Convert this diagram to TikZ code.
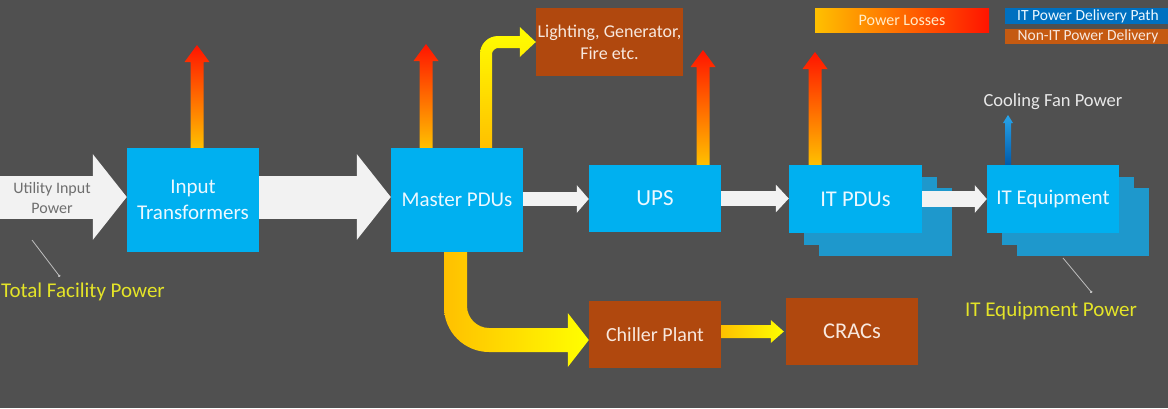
\documentclass[tikz,border=0pt]{standalone}
\usepackage{fontspec}
\setmainfont{Carlito}
\usetikzlibrary{arrows.meta,calc,shadows}
\definecolor{bg}{RGB}{80,80,80}
\definecolor{boxblue}{RGB}{0,176,240}
\definecolor{shadowblue}{RGB}{30,152,204}
\definecolor{boxtext}{RGB}{236,248,255}
\definecolor{brownbox}{RGB}{176,72,14}
\definecolor{browntext}{RGB}{248,232,222}
\definecolor{legblue}{RGB}{0,112,192}
\definecolor{legbrown}{RGB}{197,90,17}
\definecolor{arrowgray}{RGB}{242,242,242}
\definecolor{lossyellow}{RGB}{255,192,0}
\definecolor{lossred}{RGB}{255,20,0}
\definecolor{brightyellow}{RGB}{255,255,0}
\definecolor{textyellow}{RGB}{228,228,40}
\definecolor{utiltext}{RGB}{110,110,110}
\definecolor{pointergray}{RGB}{190,190,190}
\newcommand\upshaft[6]{%
  \shade[#1] ($(#2)+(-#4,0)$) -- ($(#3)+(-#4,#6)$) -- ($(#3)+(-#5,#6)$) -- (#3)
    -- ($(#3)+(#5,#6)$) -- ($(#3)+(#4,#6)$) -- ($(#2)+(#4,0)$) -- cycle;}
\begin{document}
\begin{tikzpicture}[x=1pt,y=-1pt,
  box/.style={rectangle, fill=boxblue, text=boxtext, inner sep=0pt, minimum width=132pt,
    align=center, font=\fontsize{21}{26}\selectfont},
  nbox/.style={rectangle, fill=brownbox, text=browntext, inner sep=0pt, minimum width=132pt,
    align=center, font=\fontsize{20}{26}\selectfont},
  stack/.style={double copy shadow={shadow xshift=15pt, shadow yshift=-11.5pt, fill=shadowblue, draw=none}},
  loss/.style={top color=lossred, bottom color=lossyellow},
  fanblue/.style={top color={rgb,255:red,40;green,165;blue,235}, bottom color={rgb,255:red,0;green,90;blue,170}},
  yellowup/.style={top color=brightyellow, bottom color=lossyellow},
  yellowright/.style={left color=lossyellow, right color=brightyellow},
  ylabel/.style={text=textyellow, inner sep=0pt, font=\fontsize{21}{24}\selectfont},
  pointer/.style={draw=pointergray, line width=0.8pt, -{Circle[length=2.5pt]}},
  legtext/.style={inner sep=0pt, align=center, font=\fontsize{15.5}{18}\selectfont}
]
\fill[bg] (0,0) rectangle (1168,408);
\useasboundingbox (0,0) rectangle (1168,408);

% boxes
\node[box, minimum height=104pt] (trans) at (193,200) {Input\\Transformers};
\node[box, minimum height=104pt] (master) at (457,200) {Master PDUs};
\node[box, minimum height=67pt, font=\fontsize{23}{26}\selectfont] (ups) at (655,198.5) {UPS};
\node[box, stack, minimum width=133pt, minimum height=68pt, font=\fontsize{22.5}{26}\selectfont] (itpdu) at (855.5,199) {IT PDUs};
\node[box, stack, minimum height=68pt] (itequip) at (1053,199) {IT Equipment};
\node[nbox, minimum width=147pt, minimum height=68pt, font=\fontsize{18}{22}\selectfont] (light) at (609.5,42) {Lighting, Generator,\\Fire etc.};
\node[nbox, minimum height=67pt] (chiller) at (655,334.5) {Chiller Plant};
\node[nbox, minimum height=67pt, font=\fontsize{22.5}{26}\selectfont] (cracs) at (852,331.5) {CRACs};

% big gray arrows
\coordinate (uin) at (0,197);
\draw[draw=arrowgray, line width=43pt, -{Triangle[length=34pt,width=84pt]}] (uin) -- (uin -| trans.west);
\node[text=utiltext, align=center, inner sep=0pt, font=\fontsize{16}{20}\selectfont] (util) at (52,198) {Utility Input\\Power};
\draw[draw=arrowgray, line width=43pt, -{Triangle[length=34pt,width=84pt]}]
  ($(trans.east)+(0,-3)$) -- ($(master.west)+(0,-3)$);
\draw[draw=arrowgray, line width=14pt, -{Triangle[length=12pt,width=27pt]}]
  ($(master.east)+(0,-1)$) -- ($(master.east -| ups.west)+(0,-1)$);
\draw[draw=arrowgray, line width=15pt, -{Triangle[length=13pt,width=27pt]}]
  (ups.east) -- (ups.east -| itpdu.west);
\draw[draw=arrowgray, line width=16pt, -{Triangle[length=12pt,width=27pt]}]
  (itpdu.east) -- (itpdu.east -| itequip.west);

% power loss arrows
\coordinate (l1b) at ($(trans.north)+(4,0)$);   \coordinate (l1t) at (197,45);
\coordinate (l2b) at ($(master.north)+(-31,0)$); \coordinate (l2t) at (426,44);
\coordinate (l3b) at ($(ups.north)+(48,0)$);     \coordinate (l3t) at (703,50);
\coordinate (l4b) at ($(itpdu.north)+(-40.5,0)$); \coordinate (l4t) at (815,52);
\upshaft{loss}{l1b}{l1t}{6.5}{12.5}{17}
\upshaft{loss}{l2b}{l2t}{6.5}{12.5}{17}
\upshaft{loss}{l3b}{l3t}{6.5}{12.5}{17}
\upshaft{loss}{l4b}{l4t}{6.5}{12.5}{17}

% cooling fan arrow
\coordinate (cfb) at ($(itequip.north)+(-45,0)$); \coordinate (cft) at (1008,115);
\upshaft{fanblue}{cfb}{cft}{3}{5}{8}
\node[text={rgb,255:red,232;green,232;blue,232}, inner sep=0pt, font=\fontsize{18.5}{20}\selectfont] (cfp) at (1053,102) {Cooling Fan Power};

% yellow arrow to lighting
\coordinate (lb) at ($(master.north)+(29,0)$);
\coordinate (lc) at (lb |- light.west);
\shade[yellowup] ($(lb)+(-6,0)$) -- ($(lc)+(-6,12)$) .. controls ($(lc)+(-6,2)$) and ($(lc)+(2,-6)$) .. ($(lc)+(12,-6)$)
  -- ($(light.west)+(-16,-6)$) -- ($(light.west)+(-16,-15)$) -- (light.west) -- ($(light.west)+(-16,15)$)
  -- ($(light.west)+(-16,6)$) -- ($(lc)+(12,6)$) .. controls ($(lc)+(9.3,6)$) and ($(lc)+(6,8.7)$) .. ($(lc)+(6,12)$)
  -- ($(lb)+(6,0)$) -- cycle;

% yellow arrow to chiller plant
\coordinate (cb) at ($(master.south)+(-1.5,0)$);
\coordinate (ct) at ($(chiller.west)+(0,5.5)$);
\coordinate (cc) at (cb |- ct);
\shade[yellowright] ($(cb)+(-11.5,0)$) -- ($(cc)+(-11.5,-33)$) .. controls ($(cc)+(-11.5,-8)$) and ($(cc)+(9,12)$) .. ($(cc)+(33.5,12)$)
  -- ($(ct)+(-21,12)$) -- ($(ct)+(-21,27)$) -- (ct) -- ($(ct)+(-21,-27)$) -- ($(ct)+(-21,-12)$)
  -- ($(cc)+(33.5,-12)$) .. controls ($(cc)+(21.5,-12)$) and ($(cc)+(11.5,-22)$) .. ($(cc)+(11.5,-34)$)
  -- ($(cb)+(11.5,0)$) -- cycle;

% chiller to cracs
\coordinate (kb) at ($(chiller.east)+(0,-3)$);
\coordinate (kt) at ($(kb -| cracs.west)+(-2,0)$);
\shade[yellowright] ($(kb)+(0,-6.5)$) -- ($(kt)+(-13,-6.5)$) -- ($(kt)+(-13,-11.5)$) -- (kt)
  -- ($(kt)+(-13,11.5)$) -- ($(kt)+(-13,6.5)$) -- ($(kb)+(0,6.5)$) -- cycle;

% labels with pointers
\node[ylabel] (tfp) at (83,292) {Total Facility Power};
\coordinate (tfpA) at (32,240);
\draw[pointer] (tfpA) -- ($(tfp.north)+(-23,-6)$);
\node[ylabel] (iep) at (1051,311) {IT Equipment Power};
\coordinate (iepA) at (1063,258);
\draw[pointer] (iepA) -- ($(iep.north)+(41,-9)$);

% legend
\node[legtext, left color=lossyellow, right color=lossred, minimum width=174pt, minimum height=24pt,
  text={rgb,255:red,255;green,236;blue,200}, font=\fontsize{16}{18}\selectfont] (leg1) at (902,20) {Power Losses};
\node[legtext, fill=legblue, text=boxtext, minimum width=166pt, minimum height=16pt] (leg2) at (1088,16) {IT Power Delivery Path};
\node[legtext, fill=legbrown, text=browntext, minimum width=166pt, minimum height=15pt] (leg3) at (1088,36.5) {Non-IT Power Delivery};
\fill[bg] (1168,0) rectangle (1180,50);
\end{tikzpicture}
\end{document}
